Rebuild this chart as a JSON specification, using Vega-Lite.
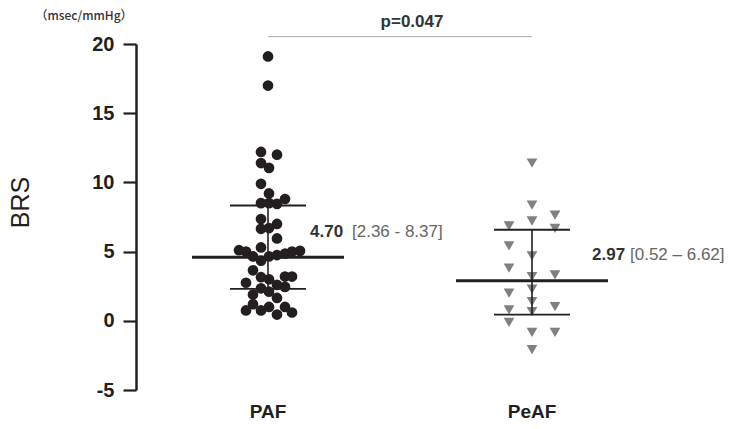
{
  "$schema": "https://vega.github.io/schema/vega-lite/v6.json",
  "width": 528,
  "height": 346,
  "autosize": "none",
  "padding": {"left": 136, "top": 44, "right": 71, "bottom": 39},
  "background": "white",
  "config": {"view": {"stroke": null}, "font": "Liberation Sans"},
  "datasets": {
    "points": [
      {"group": "PAF", "brs": 19.1, "offset": 0},
      {"group": "PAF", "brs": 17.0, "offset": 0},
      {"group": "PAF", "brs": 12.2, "offset": -7},
      {"group": "PAF", "brs": 12.0, "offset": 9},
      {"group": "PAF", "brs": 11.4, "offset": -7},
      {"group": "PAF", "brs": 11.05, "offset": 1},
      {"group": "PAF", "brs": 9.9, "offset": -7},
      {"group": "PAF", "brs": 9.2, "offset": 1},
      {"group": "PAF", "brs": 8.8, "offset": 17},
      {"group": "PAF", "brs": 8.5, "offset": -7},
      {"group": "PAF", "brs": 8.45, "offset": 9},
      {"group": "PAF", "brs": 8.5, "offset": 1},
      {"group": "PAF", "brs": 7.35, "offset": -7},
      {"group": "PAF", "brs": 7.0, "offset": 9},
      {"group": "PAF", "brs": 6.65, "offset": -7},
      {"group": "PAF", "brs": 6.7, "offset": 1},
      {"group": "PAF", "brs": 5.95, "offset": 9},
      {"group": "PAF", "brs": 5.3, "offset": -7},
      {"group": "PAF", "brs": 5.1, "offset": -29},
      {"group": "PAF", "brs": 5.0, "offset": -22},
      {"group": "PAF", "brs": 4.65, "offset": -15},
      {"group": "PAF", "brs": 4.35, "offset": -7},
      {"group": "PAF", "brs": 4.65, "offset": 1},
      {"group": "PAF", "brs": 4.75, "offset": 9},
      {"group": "PAF", "brs": 4.85, "offset": 17},
      {"group": "PAF", "brs": 5.0, "offset": 24},
      {"group": "PAF", "brs": 5.05, "offset": 32},
      {"group": "PAF", "brs": 3.65, "offset": -15},
      {"group": "PAF", "brs": 3.15, "offset": -7},
      {"group": "PAF", "brs": 3.0, "offset": 1},
      {"group": "PAF", "brs": 3.2, "offset": 17},
      {"group": "PAF", "brs": 3.2, "offset": 24},
      {"group": "PAF", "brs": 2.75, "offset": -22},
      {"group": "PAF", "brs": 2.6, "offset": 9},
      {"group": "PAF", "brs": 2.45, "offset": 17},
      {"group": "PAF", "brs": 2.35, "offset": -7},
      {"group": "PAF", "brs": 2.1, "offset": 1},
      {"group": "PAF", "brs": 1.9, "offset": -15},
      {"group": "PAF", "brs": 1.65, "offset": 9},
      {"group": "PAF", "brs": 1.2, "offset": -15},
      {"group": "PAF", "brs": 1.0, "offset": 1},
      {"group": "PAF", "brs": 1.0, "offset": 17},
      {"group": "PAF", "brs": 0.75, "offset": -22},
      {"group": "PAF", "brs": 0.75, "offset": -7},
      {"group": "PAF", "brs": 0.45, "offset": 9},
      {"group": "PAF", "brs": 0.6, "offset": 24},
      {"group": "PeAF", "brs": 11.4, "offset": 0},
      {"group": "PeAF", "brs": 8.36, "offset": 0},
      {"group": "PeAF", "brs": 7.64, "offset": 23},
      {"group": "PeAF", "brs": 6.85, "offset": -23},
      {"group": "PeAF", "brs": 7.21, "offset": 0},
      {"group": "PeAF", "brs": 6.68, "offset": 23},
      {"group": "PeAF", "brs": 5.41, "offset": -23},
      {"group": "PeAF", "brs": 4.69, "offset": 0},
      {"group": "PeAF", "brs": 3.8, "offset": -23},
      {"group": "PeAF", "brs": 3.19, "offset": 0},
      {"group": "PeAF", "brs": 3.32, "offset": 23},
      {"group": "PeAF", "brs": 2.0, "offset": -23},
      {"group": "PeAF", "brs": 2.28, "offset": 0},
      {"group": "PeAF", "brs": 1.39, "offset": 0},
      {"group": "PeAF", "brs": 1.03, "offset": 23},
      {"group": "PeAF", "brs": 0.79, "offset": -23},
      {"group": "PeAF", "brs": 0.67, "offset": 0},
      {"group": "PeAF", "brs": -0.12, "offset": -23},
      {"group": "PeAF", "brs": -0.84, "offset": 0},
      {"group": "PeAF", "brs": -0.84, "offset": 23},
      {"group": "PeAF", "brs": -2.09, "offset": 0}
    ],
    "stats": [
      {"group": "PAF", "median": 4.6, "q1": 2.3, "q3": 8.33},
      {"group": "PeAF", "median": 2.9, "q1": 0.45, "q3": 6.58}
    ]
  },
  "layer": [
    {
      "data": {"name": "points"},
      "mark": {"type": "point", "filled": true, "opacity": 1, "size": 115, "strokeWidth": 0},
      "encoding": {
        "x": {
          "field": "group", "type": "nominal",
          "scale": {"domain": ["PAF", "PeAF"], "paddingInner": 0, "paddingOuter": 0},
          "axis": {"title": null, "domain": false, "ticks": false, "labelAngle": 0, "labelFontSize": 19, "labelFontWeight": "bold", "labelColor": "#231f20", "labelPadding": 12}
        },
        "xOffset": {"field": "offset", "type": "quantitative", "scale": {"domain": [-132, 132], "range": [0, 264]}},
        "y": {
          "field": "brs", "type": "quantitative",
          "scale": {"domain": [-5, 20], "nice": false, "zero": false},
          "axis": {"title": "BRS", "values": [-5, 0, 5, 10, 15, 20], "labelExpr": "datum.value", "grid": false, "domainWidth": 2.5, "domainColor": "#231f20", "tickWidth": 2.2, "tickColor": "#231f20", "tickSize": 13, "labelFontSize": 20, "labelFontWeight": "bold", "labelColor": "#231f20", "labelPadding": 9, "titleFontSize": 25, "titleFontWeight": "normal", "titleColor": "#231f20", "titleX": -116, "titleY": 158, "titleAngle": -90, "titleAlign": "center", "titleBaseline": "middle"}
        },
        "shape": {"field": "group", "type": "nominal", "scale": {"domain": ["PAF", "PeAF"], "range": ["circle", "triangle-down"]}, "legend": null},
        "color": {"field": "group", "type": "nominal", "scale": {"domain": ["PAF", "PeAF"], "range": ["#231f20", "#808080"]}, "legend": null}
      }
    },
    {
      "data": {"name": "stats"},
      "mark": {"type": "rule", "color": "#231f20", "strokeWidth": 1.6, "opacity": 1},
      "encoding": {
        "x": {"field": "group", "type": "nominal"},
        "y": {"field": "q3", "type": "quantitative"},
        "y2": {"field": "q1"}
      }
    },
    {
      "data": {"name": "stats"},
      "mark": {"type": "tick", "color": "#231f20", "size": 152, "thickness": 3, "orient": "horizontal", "opacity": 1},
      "encoding": {
        "x": {"field": "group", "type": "nominal"},
        "y": {"field": "median", "type": "quantitative"}
      }
    },
    {
      "data": {"name": "stats"},
      "mark": {"type": "tick", "color": "#231f20", "size": 76, "thickness": 1.8, "orient": "horizontal", "opacity": 1},
      "encoding": {
        "x": {"field": "group", "type": "nominal"},
        "y": {"field": "q1", "type": "quantitative"}
      }
    },
    {
      "data": {"name": "stats"},
      "mark": {"type": "tick", "color": "#231f20", "size": 76, "thickness": 1.8, "orient": "horizontal", "opacity": 1},
      "encoding": {
        "x": {"field": "group", "type": "nominal"},
        "y": {"field": "q3", "type": "quantitative"}
      }
    },
    {
      "data": {"values": [{"from": "PAF", "to": "PeAF", "level": 20.53}]},
      "mark": {"type": "rule", "color": "#aaaaaa", "strokeWidth": 1},
      "encoding": {
        "x": {"field": "from", "type": "nominal"},
        "x2": {"field": "to"},
        "y": {"field": "level", "type": "quantitative"}
      }
    },
    {
      "data": {"values": [{"group": "PAF", "pos": 21.6, "label": "p=0.047"}]},
      "mark": {"type": "text", "fontSize": 17, "fontWeight": "bold", "color": "#333333", "align": "center", "baseline": "middle", "dx": 144},
      "encoding": {
        "x": {"field": "group", "type": "nominal"},
        "y": {"field": "pos", "type": "quantitative"},
        "text": {"field": "label"}
      }
    },
    {
      "data": {"values": [{"group": "PAF", "pos": 22.0, "label": "（msec/mmHg）"}]},
      "mark": {"type": "text", "fontSize": 12, "font": "Noto Sans CJK JP", "fontWeight": 500, "color": "#333333", "align": "center", "baseline": "middle", "dx": -184},
      "encoding": {
        "x": {"field": "group", "type": "nominal"},
        "y": {"field": "pos", "type": "quantitative"},
        "text": {"field": "label"}
      }
    },
    {
      "data": {"values": [{"group": "PAF", "pos": 6.44, "label": "4.70"}]},
      "mark": {"type": "text", "fontSize": 17, "fontWeight": "bold", "color": "#333333", "align": "left", "baseline": "middle", "dx": 42},
      "encoding": {
        "x": {"field": "group", "type": "nominal"},
        "y": {"field": "pos", "type": "quantitative"},
        "text": {"field": "label"}
      }
    },
    {
      "data": {"values": [{"group": "PAF", "pos": 6.44, "label": "[2.36 - 8.37]"}]},
      "mark": {"type": "text", "fontSize": 17, "fontWeight": "normal", "color": "#666666", "align": "left", "baseline": "middle", "dx": 84},
      "encoding": {
        "x": {"field": "group", "type": "nominal"},
        "y": {"field": "pos", "type": "quantitative"},
        "text": {"field": "label"}
      }
    },
    {
      "data": {"values": [{"group": "PeAF", "pos": 4.75, "label": "2.97"}]},
      "mark": {"type": "text", "fontSize": 17, "fontWeight": "bold", "color": "#333333", "align": "left", "baseline": "middle", "dx": 60},
      "encoding": {
        "x": {"field": "group", "type": "nominal"},
        "y": {"field": "pos", "type": "quantitative"},
        "text": {"field": "label"}
      }
    },
    {
      "data": {"values": [{"group": "PeAF", "pos": 4.75, "label": "[0.52 – 6.62]"}]},
      "mark": {"type": "text", "fontSize": 17, "fontWeight": "normal", "color": "#666666", "align": "left", "baseline": "middle", "dx": 98},
      "encoding": {
        "x": {"field": "group", "type": "nominal"},
        "y": {"field": "pos", "type": "quantitative"},
        "text": {"field": "label"}
      }
    }
  ]
}
